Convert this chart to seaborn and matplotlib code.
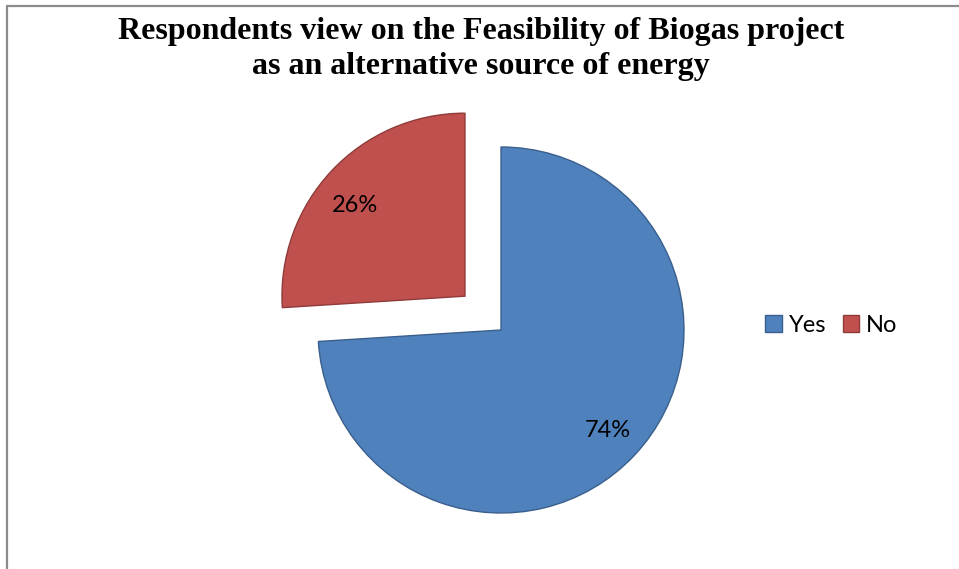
import matplotlib
matplotlib.use("Agg")
import matplotlib.pyplot as plt
from matplotlib.lines import Line2D
from matplotlib.patches import Patch
import seaborn as sns

# Survey answers
categories = ["Yes", "No"]
shares = [74, 26]
title_lines = ["Respondents view on the Feasibility of Biogas project",
               "as an alternative source of energy"]

sns.set_theme(style="white")
plt.rcParams["font.family"] = ["Lato", "DejaVu Sans"]
plt.rcParams["text.color"] = "black"

W, H, DPI = 959, 569, 100
fig = plt.figure(figsize=(W / DPI, H / DPI), dpi=DPI)
fig.patch.set_facecolor("white")

# Axes spanning the figure; one data unit equals the pie radius in pixels
R = 183.0
cx, cy = 501.0, 330.0
ax = fig.add_axes([0, 0, 1, 1])

fills = ["#4F81BD", "#C0504D"]
edges = ["#3A5F8C", "#8E3B39"]
wedges, texts, autotexts = ax.pie(
    shares,
    explode=[0, 0.27],
    startangle=90,
    counterclock=False,
    colors=fills,
    autopct=lambda p: f"{p:.0f}%",
    pctdistance=0.8,
    textprops=dict(fontsize=17, color="black"),
    wedgeprops=dict(linewidth=1.0),
)
for w, ec in zip(wedges, edges):
    w.set_edgecolor(ec)

# Nudge the "No" percentage a little lower inside its wedge
x0, y0 = autotexts[1].get_position()
autotexts[1].set_position((x0 - 3 / R, y0 - 10 / R))

ax.set_aspect("auto")
ax.set_xlim(-cx / R, (W - cx) / R)
ax.set_ylim(-(H - cy) / R, cy / R)
ax.axis("off")

# Title
fig.text(481 / W, 1 - 31 / H, title_lines[0], ha="center", va="center", color="black",
         fontsize=23, fontweight="bold", family="Liberation Serif")
fig.text(481 / W, 1 - 66 / H, title_lines[1], ha="center", va="center", color="black",
         fontsize=23, fontweight="bold", family="Liberation Serif")

# Legend
handles = [Patch(facecolor=f, edgecolor=e, linewidth=1.0) for f, e in zip(fills, edges)]
leg = fig.legend(handles, categories, loc="center left", bbox_to_anchor=(765 / W, 1 - 325 / H),
                 ncol=2, frameon=False, fontsize=17, handlelength=0.7, handleheight=0.7,
                 handletextpad=0.3, columnspacing=0.7, borderaxespad=0, borderpad=0)
for t in leg.get_texts():
    t.set_color("black")

# Outer chart border (top and left edges)
fig.add_artist(Line2D([6.5 / W, 6.5 / W], [0, 1 - 5.5 / H], transform=fig.transFigure,
                      color="#8C8C8C", linewidth=1.6))
fig.add_artist(Line2D([6.5 / W, 1], [1 - 5.5 / H, 1 - 5.5 / H], transform=fig.transFigure,
                      color="#8C8C8C", linewidth=1.6))

fig.savefig("out.png", dpi=DPI, facecolor="white")
